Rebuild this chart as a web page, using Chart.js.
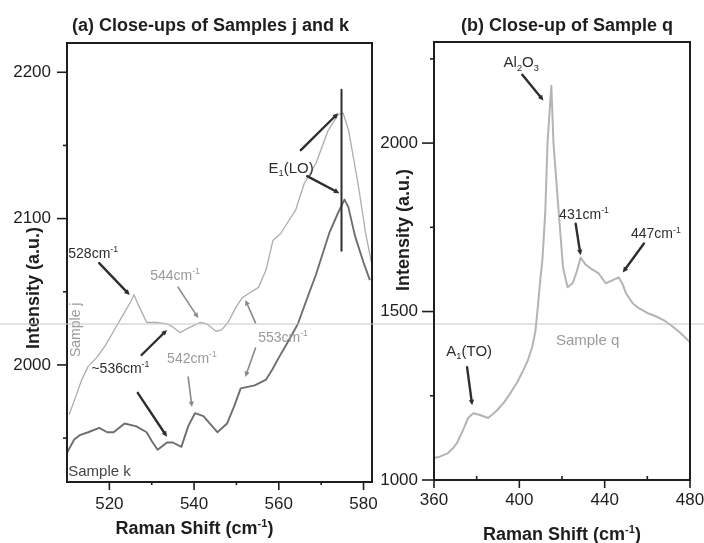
<!DOCTYPE html>
<html><head><meta charset="utf-8">
<script src="https://cdn.jsdelivr.net/npm/chart.js@4.4.1/dist/chart.umd.min.js"></script>
<style>
html,body{margin:0;padding:0;background:#fff;}
#wrap{position:relative;width:704px;height:543px;overflow:hidden;background:#fff;}
canvas{position:absolute;left:0;top:0;}
</style></head><body>
<div id="wrap"><canvas id="ca" width="704" height="543"></canvas><canvas id="cb" width="704" height="543"></canvas></div>
<script>
// ---------- data ----------
const sampleJShift = [510.5,512,513.5,515,517,519,521,523,525,525.8,527,528.8,531,533.6,535,536.7,538.5,541.4,543,545.2,546.5,548,550,551.4,553,555.2,557,558.6,560.5,562,564,566,568.8,571.6,574,575.2,576.5,578.8,580.5,582];
const sampleJIntensity = [1966,1978,1990,1999,2005,2013,2023,2033,2043,2048,2040,2029,2029,2028,2026,2022,2025,2029,2028,2023,2024,2029,2040,2046,2049,2053,2065,2085,2090,2097,2106,2124,2138,2160,2171,2172,2160,2122,2090,2068];
const sampleKShift = [510,511.7,513,515,517.6,519.5,521,523.6,526.4,528.8,530,531.4,533.6,535,537,538.6,540.2,542.2,544,545.5,547.8,549.5,551,554.3,557,558.5,560,562,564.5,566.5,568.8,571.9,574,575.5,576.4,578,580,581.5];
const sampleKIntensity = [1940,1949,1952,1954,1957,1954,1954,1960,1958,1954,1948,1942,1947,1947,1944,1958,1967,1965,1959,1954,1960,1972,1984,1986,1990,1997,2005,2015,2028,2044,2062,2090,2104,2113,2108,2088,2070,2058];
const sampleQShift = [360,363,366.6,369,370.8,373.6,376,378.4,381.6,385.4,389.6,393,395.8,399,401.9,404,406,407.5,408.4,409.9,410.8,412.2,413.2,415,416,418.4,420.5,422.6,425,427,428.7,431,433.4,437.2,440.5,443.8,446.6,448.5,450,453.2,456,460.2,464,467.8,472,475.8,479,480];
const sampleQIntensity = [1065,1070,1080,1095,1110,1148,1184,1198,1193,1184,1207,1232,1258,1290,1326,1355,1394,1440,1495,1600,1652,1800,2000,2170,2000,1800,1630,1572,1584,1620,1660,1640,1628,1613,1584,1593,1601,1580,1554,1524,1510,1495,1486,1474,1455,1435,1415,1410];

const panelAXTicks = [520,540,560,580];
const panelAXMinor = [530,550,570];
const panelAYTicks = [2000,2100,2200];
const panelAYMinor = [1950,2050,2150];
const panelBXTicks = [360,400,440,480];
const panelBXMinor = [380,420,460];
const panelBYTicks = [1000,1500,2000];
const panelBYMinor = [1250,1750,2250];

// ---------- styling ----------
const FONT = "'Liberation Sans', Arial, sans-serif";
const INK = '#1e1e1e';
const DARK = '#2e2e2e';
const GREY = '#9a9a9a';

// annotations (data coordinates of each panel)
const panelANotes = [
  {x:510.3, y:2076.5, align:'left', parts:[['528cm'],['-1','sup']], color:DARK, size:14},
  {x:535.5, y:2061.4, parts:[['544cm'],['-1','sup']], color:GREY, size:14},
  {x:561, y:2019, parts:[['553cm'],['-1','sup']], color:GREY, size:14},
  {x:522.6, y:1998, parts:[['~536cm'],['-1','sup']], color:DARK, size:14},
  {x:539.5, y:2004.8, parts:[['542cm'],['-1','sup']], color:GREY, size:14},
  {x:562.9, y:2135, parts:[['E'],['1','sub'],['(LO)']], color:DARK, size:15},
  {x:511.9, y:2024, parts:[['Sample j']], color:GREY, size:14, rotate:true},
  {x:510.3, y:1928, align:'left', parts:[['Sample k']], color:'#444', size:15}
];
const panelAArrows = [
  {from:[517.6,2069.6], to:[524.8,2047.8], color:DARK, w:2.4},
  {from:[536.2,2053.2], to:[541,2032], color:'#8a8a8a', w:1.6},
  {from:[554.5,2028.7], to:[552.1,2044.4], color:'#8a8a8a', w:1.6},
  {from:[554.5,2011.6], to:[552.1,1991.8], color:'#8a8a8a', w:1.6},
  {from:[527.6,2006.8], to:[533.6,2023.9], color:DARK, w:2.4},
  {from:[526.7,1980.9], to:[533.6,1950.9], color:DARK, w:2.4},
  {from:[538.6,1991.8], to:[539.5,1971.3], color:'#8a8a8a', w:1.6},
  {from:[565.2,2146.8], to:[574.0,2172.0], color:DARK, w:2.4},
  {from:[566.7,2129], to:[574.3,2117.4], color:DARK, w:2.4},
  {from:[574.8,2078], to:[574.8,2188], color:DARK, w:2, noHead:true}
];
const panelBNotes = [
  {x:400.9, y:2241, parts:[['Al'],['2','sub'],['O'],['3','sub']], color:DARK, size:15},
  {x:430.3, y:1791, parts:[['431cm'],['-1','sup']], color:DARK, size:14},
  {x:464, y:1732, parts:[['447cm'],['-1','sup']], color:DARK, size:14},
  {x:376.5, y:1385, parts:[['A'],['1','sub'],['(TO)']], color:DARK, size:15},
  {x:432, y:1418, parts:[['Sample q']], color:GREY, size:15}
];
const panelBArrows = [
  {from:[401.4,2203], to:[411.3,2126], color:DARK, w:2.4},
  {from:[426.4,1761], to:[428.7,1667], color:DARK, w:2.4},
  {from:[458.4,1702], to:[448.5,1616], color:DARK, w:2.4},
  {from:[375.5,1335], to:[377.9,1222], color:DARK, w:2.4}
];

// ---------- helpers ----------
function partFont(size, mode, weight){ const s = mode ? size*0.62 : size; return `${weight} ${s}px ${FONT}`; }
function richWidth(ctx, parts, size, weight){
  let w = 0;
  for (const [t, mode] of parts){ ctx.font = partFont(size, mode, weight); w += ctx.measureText(t).width; }
  return w;
}
function drawRich(ctx, parts, x, y, o){
  const weight = o.weight || 'normal';
  const w = richWidth(ctx, parts, o.size, weight);
  let cx = o.align === 'left' ? x : (o.align === 'right' ? x - w : x - w/2);
  const base = y + o.size*0.36;
  ctx.fillStyle = o.color; ctx.textAlign = 'left'; ctx.textBaseline = 'alphabetic';
  for (const [t, mode] of parts){
    ctx.font = partFont(o.size, mode, weight);
    let dy = 0;
    if (mode === 'sup') dy = -o.size*0.42;
    if (mode === 'sub') dy = o.size*0.24;
    ctx.fillText(t, cx, base + dy);
    cx += ctx.measureText(t).width;
  }
}
function drawArrow(ctx, x1, y1, x2, y2, color, w, noHead){
  ctx.strokeStyle = color; ctx.fillStyle = color; ctx.lineWidth = w; ctx.lineCap = 'round';
  const ang = Math.atan2(y2-y1, x2-x1), h = 6;
  const ex = noHead ? x2 : x2 - Math.cos(ang)*h*0.6, ey = noHead ? y2 : y2 - Math.sin(ang)*h*0.6;
  ctx.beginPath(); ctx.moveTo(x1,y1); ctx.lineTo(ex,ey); ctx.stroke();
  if (!noHead){
    ctx.beginPath();
    ctx.moveTo(x2,y2);
    ctx.lineTo(x2 - h*Math.cos(ang-0.45), y2 - h*Math.sin(ang-0.45));
    ctx.lineTo(x2 - h*Math.cos(ang+0.45), y2 - h*Math.sin(ang+0.45));
    ctx.closePath(); ctx.fill();
  }
}

function makeDecor(cfg){
  return {
    id: 'decor' + cfg.id,
    beforeDraw(chart){
      if (!cfg.scanLine) return;
      const ctx = chart.ctx; ctx.save();
      ctx.strokeStyle = 'rgba(200,200,200,0.5)'; ctx.lineWidth = 2;
      ctx.beginPath(); ctx.moveTo(0, cfg.scanLine); ctx.lineTo(chart.width, cfg.scanLine); ctx.stroke();
      ctx.restore();
    },
    afterDraw(chart){
      const ctx = chart.ctx, a = chart.chartArea, xs = chart.scales.x, ys = chart.scales.y;
      ctx.save();
      // frame
      ctx.strokeStyle = INK; ctx.lineWidth = 2;
      ctx.strokeRect(a.left, a.top, a.right - a.left, a.bottom - a.top);
      // ticks
      ctx.lineWidth = 1.6; ctx.lineCap = 'butt';
      const tickX = (v, len) => { const p = xs.getPixelForValue(v); ctx.beginPath(); ctx.moveTo(p, a.bottom); ctx.lineTo(p, a.bottom + len); ctx.stroke(); };
      const tickY = (v, len) => { const p = ys.getPixelForValue(v); ctx.beginPath(); ctx.moveTo(a.left, p); ctx.lineTo(a.left - len, p); ctx.stroke(); };
      xs.ticks.forEach(t => tickX(t.value, cfg.xMajorLen));
      cfg.xMinor.forEach(v => tickX(v, cfg.xMinorLen));
      ys.ticks.forEach(t => tickY(t.value, cfg.yMajorLen));
      cfg.yMinor.forEach(v => tickY(v, cfg.yMinorLen));
      // arrows
      cfg.arrows.forEach(r => drawArrow(ctx, xs.getPixelForValue(r.from[0]), ys.getPixelForValue(r.from[1]),
        xs.getPixelForValue(r.to[0]), ys.getPixelForValue(r.to[1]), r.color, r.w, r.noHead));
      // notes
      cfg.notes.forEach(n => {
        const px = xs.getPixelForValue(n.x), py = ys.getPixelForValue(n.y);
        if (n.rotate){
          ctx.save(); ctx.translate(px, py); ctx.rotate(-Math.PI/2);
          drawRich(ctx, n.parts, 0, 0, {size:n.size, color:n.color});
          ctx.restore();
        } else drawRich(ctx, n.parts, px, py, {size:n.size, color:n.color, align:n.align});
      });
      // titles
      const midX = (a.left + a.right)/2;
      drawRich(ctx, [[cfg.title]], midX + cfg.titleDx, cfg.titleY, {size:18, color:INK, weight:'bold'});
      drawRich(ctx, [['Raman Shift (cm'],['-1','sup'],[')']], midX + cfg.xTitleDx, cfg.xTitleY, {size:18, color:INK, weight:'bold'});
      ctx.save(); ctx.translate(cfg.yTitleX, cfg.yTitleY); ctx.rotate(-Math.PI/2);
      drawRich(ctx, [['Intensity (a.u.)']], 0, 0, {size:18, color:INK, weight:'bold'});
      ctx.restore();
      ctx.restore();
    }
  };
}

function pts(xs, ys){ return xs.map((x,i) => ({x, y: ys[i]})); }

function makeChart(el, datasets, sc, pad, decor){
  return new Chart(document.getElementById(el), {
    type: 'line',
    data: { datasets },
    options: {
      responsive: false, animation: false, devicePixelRatio: 1,
      layout: { padding: pad },
      plugins: { legend: {display:false}, tooltip: {enabled:false}, title: {display:false} },
      elements: { point: {radius:0}, line: {tension:0, borderJoinStyle:'round'} },
      scales: {
        x: { type:'linear', min: sc.xMin, max: sc.xMax,
             afterBuildTicks: s => { s.ticks = sc.xTicks.map(v => ({value:v})); },
             afterFit: s => { s.height = 40; s.paddingLeft = 0; s.paddingRight = 0; },
             grid: {display:true, drawOnChartArea:false, drawTicks:true, tickLength: sc.xTickLen, color:'rgba(0,0,0,0)'},
             border: {display:false},
             ticks: {autoSkip:false, maxRotation:0, padding: sc.xPad, color: INK, font:{family:FONT, size:17}, callback: v => String(v)} },
        y: { type:'linear', min: sc.yMin, max: sc.yMax,
             afterBuildTicks: s => { s.ticks = sc.yTicks.map(v => ({value:v})); },
             afterFit: s => { s.width = 60; s.paddingTop = 0; s.paddingBottom = 0; },
             grid: {display:true, drawOnChartArea:false, drawTicks:true, tickLength: sc.yTickLen, color:'rgba(0,0,0,0)'},
             border: {display:false},
             ticks: {autoSkip:false, padding: sc.yPad, color: INK, font:{family:FONT, size:17}, callback: v => String(v)} }
      }
    },
    plugins: [decor]
  });
}

// ---------- panel (a) ----------
makeChart('ca', [
  {label:'Sample j', data: pts(sampleJShift, sampleJIntensity), borderColor:'#adadad', borderWidth:1.3},
  {label:'Sample k', data: pts(sampleKShift, sampleKIntensity), borderColor:'#6e6e6e', borderWidth:1.9}
], {xMin:510, xMax:582, yMin:1920, yMax:2220, xTicks:panelAXTicks, yTicks:panelAYTicks, xTickLen:7, xPad:5, yTickLen:10, yPad:6},
{top:43, right:332, bottom:21, left:7},
makeDecor({id:'A', xMinor:panelAXMinor, yMinor:panelAYMinor, xMajorLen:8, xMinorLen:3, yMajorLen:10, yMinorLen:4,
  arrows:panelAArrows, notes:panelANotes, title:'(a) Close-ups of Samples j and k', titleDx:-9, titleY:25,
  xTitleDx:-25, xTitleY:528, yTitleX:33, yTitleY:288}));

// ---------- panel (b) ----------
makeChart('cb', [
  {label:'Sample q', data: pts(sampleQShift, sampleQIntensity), borderColor:'#b4b4b4', borderWidth:2}
], {xMin:360, xMax:480, yMin:1000, yMax:2300, xTicks:panelBXTicks, yTicks:panelBYTicks, xTickLen:7, xPad:3, yTickLen:12, yPad:4},
{top:42, right:14, bottom:23, left:374},
makeDecor({id:'B', scanLine:324, xMinor:panelBXMinor, yMinor:panelBYMinor, xMajorLen:8, xMinorLen:-4, yMajorLen:12, yMinorLen:4,
  arrows:panelBArrows, notes:panelBNotes, title:'(b) Close-up of Sample q', titleDx:5, titleY:25,
  xTitleDx:0, xTitleY:534, yTitleX:403, yTitleY:230}));
</script>
</body></html>
